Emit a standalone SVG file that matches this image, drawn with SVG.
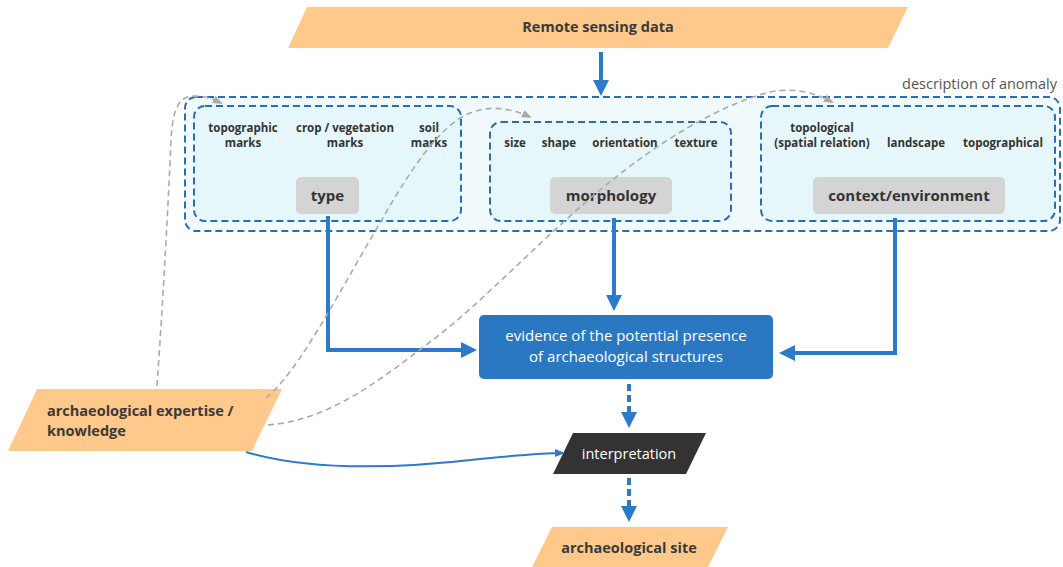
<svg xmlns="http://www.w3.org/2000/svg" width="1063" height="567" viewBox="0 0 1063 567">
<style>
text{font-family:"Open Sans","Noto Sans","Liberation Sans",sans-serif}
.io{fill:#fec98a}
.t-io{font-size:14.5px;font-weight:700;fill:#3a3a3a}
.outer{fill:#f0fafd;stroke:#2a6db3;stroke-width:2;stroke-dasharray:7 4}
.inner{fill:#e6f7fb;stroke:#2a6db3;stroke-width:2;stroke-dasharray:7 4}
.lab{fill:#d4d4d4}
.t-lab{font-size:15px;font-weight:700;fill:#333;text-anchor:middle}
.t-sm{font-size:11.5px;font-weight:700;fill:#333;text-anchor:middle}
.blue{fill:none;stroke:#2b7bca;stroke-width:4}
.bdash{fill:none;stroke:#2b7bca;stroke-width:4;stroke-dasharray:7 4}
.thin{fill:none;stroke:#2b7bca;stroke-width:2}
.gray{fill:none;stroke:#aaaaaa;stroke-width:1.6;stroke-dasharray:6 4}
</style>
<defs>
<marker id="ab" viewBox="0 0 16 16" refX="12" refY="8" markerWidth="16" markerHeight="16" markerUnits="userSpaceOnUse" orient="auto"><path d="M0,0 L16,8 L0,16 z" fill="#2b7bca"/></marker>
<marker id="at" viewBox="0 0 10 10" refX="8" refY="5" markerWidth="10" markerHeight="10" markerUnits="userSpaceOnUse" orient="auto"><path d="M0,1 L10,5 L0,9 z" fill="#2b7bca"/></marker>
<marker id="ag" viewBox="0 0 10 10" refX="8" refY="5" markerWidth="10" markerHeight="10" markerUnits="userSpaceOnUse" orient="auto"><path d="M0,1 L10,5 L0,9 z" fill="#aaaaaa"/></marker>
</defs>

<g id="remote-sensing-data">
<polygon class="io" points="307,7 908,7 888,48 288,48"/>
<text class="t-io" x="598" y="32" text-anchor="middle">Remote sensing data</text>
</g>

<g id="description-of-anomaly">
<rect class="outer" x="185" y="97" width="875" height="134" rx="11"/>
<text x="1057" y="89" text-anchor="end" style="font-size:14.5px;fill:#555">description of anomaly</text>
</g>

<g id="type-group">
<rect class="inner" x="194" y="106" width="267" height="115" rx="11"/>
<text class="t-sm" x="243" y="132">topographic</text>
<text class="t-sm" x="243" y="147">marks</text>
<text class="t-sm" x="345" y="132">crop / vegetation</text>
<text class="t-sm" x="345" y="147">marks</text>
<text class="t-sm" x="429" y="132">soil</text>
<text class="t-sm" x="429" y="147">marks</text>
<rect class="lab" x="296" y="177" width="63" height="37" rx="5"/>
<text class="t-lab" x="327.500" y="201">type</text>
</g>

<g id="morphology-group">
<rect class="inner" x="490" y="122" width="241" height="99" rx="11"/>
<text class="t-sm" x="515" y="147">size</text>
<text class="t-sm" x="559" y="147">shape</text>
<text class="t-sm" x="625" y="147">orientation</text>
<text class="t-sm" x="696" y="147">texture</text>
<rect class="lab" x="550" y="177" width="122" height="37" rx="5"/>
<text class="t-lab" x="611" y="201">morphology</text>
</g>

<g id="context-group">
<rect class="inner" x="761" y="106" width="294" height="115" rx="11"/>
<text class="t-sm" x="822" y="132">topological</text>
<text class="t-sm" x="822" y="147">(spatial relation)</text>
<text class="t-sm" x="916" y="147">landscape</text>
<text class="t-sm" x="1003" y="147">topographical</text>
<rect class="lab" x="813" y="177" width="192" height="37" rx="5"/>
<text class="t-lab" x="909" y="201">context/environment</text>
</g>

<g id="evidence">
<rect x="479" y="315" width="294" height="64" rx="5" fill="#2b78c2"/>
<text x="626" y="341" text-anchor="middle" style="font-size:15px;fill:#fff">evidence of the potential presence</text>
<text x="626" y="362" text-anchor="middle" style="font-size:15px;fill:#fff">of archaeological structures</text>
</g>

<g id="expertise">
<polygon class="io" points="37,389 282,389 252,451 8,451"/>
<text class="t-io" x="47" y="416">archaeological expertise /</text>
<text class="t-io" x="47" y="436">knowledge</text>
</g>

<g id="interpretation">
<polygon points="573,433 706,433 686,474 553,474" fill="#333333"/>
<text x="629" y="459" text-anchor="middle" style="font-size:14.5px;fill:#fff">interpretation</text>
</g>

<g id="archaeological-site">
<polygon class="io" points="552,527 728,527 708,567 532,567"/>
<text class="t-io" x="629" y="553" text-anchor="middle">archaeological site</text>
</g>

<g id="connectors">
<path class="blue" d="M601,52 V92" marker-end="url(#ab)"/>
<path class="blue" d="M328,216 V350 H473" marker-end="url(#ab)"/>
<path class="blue" d="M614,218 V307" marker-end="url(#ab)"/>
<path class="blue" d="M895,218 V353 H783" marker-end="url(#ab)"/>
<path class="bdash" d="M629,384 V424" marker-end="url(#ab)"/>
<path class="bdash" d="M629,478 V518" marker-end="url(#ab)"/>
<path class="thin" d="M246,452 C320,474 420,466 480,459 C520,455 540,453 563,453" marker-end="url(#at)"/>
<path class="gray" d="M157,386 C163,300 168,210 171,140 C173,105 180,96 195,96 C205,96 213,99 221,103" marker-end="url(#ag)"/>
<path class="gray" d="M266,398 C300,370 340,290 380,223 C410,170 440,125 470,113 C490,105 510,108 530,117" marker-end="url(#ag)"/>
<path class="gray" d="M268,425 C330,420 380,380 430,342 C480,305 540,240 600,190 C660,140 720,105 770,92 C795,87 815,93 832,102" marker-end="url(#ag)"/>
</g>
</svg>
